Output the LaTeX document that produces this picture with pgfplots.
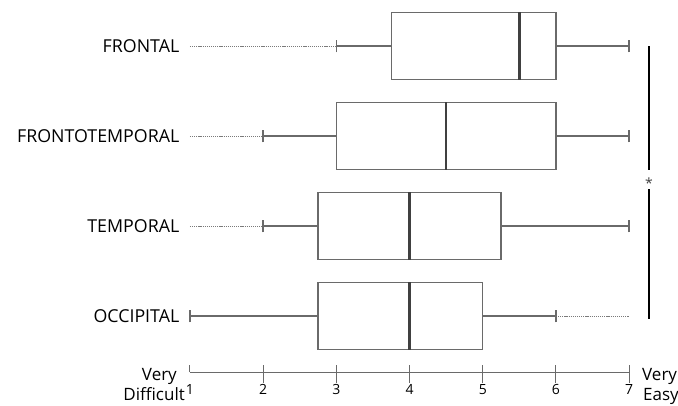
\documentclass[border=0pt]{standalone}
\usepackage{pgfplots}
\pgfplotsset{compat=1.18}
\usepgfplotslibrary{statistics}
\usepackage{fontspec}
\setmainfont{Open Sans}

\definecolor{boxgray}{HTML}{6A6A6A}
\definecolor{medgray}{HTML}{404040}
\definecolor{dotgray}{HTML}{7A7A7A}

\begin{document}
\begin{tikzpicture}[x=1pt,y=1pt]
\useasboundingbox (0,0) rectangle (678,405);
\begin{axis}[
  at={(190pt,33pt)}, anchor=south west,
  scale only axis, width=439.2pt, height=369pt,
  xmin=1, xmax=7, ymin=0.378, ymax=4.478,
  clip=false,
  axis x line=bottom, axis y line=left,
  x axis line style={-, draw=boxgray, line width=1pt},
  y axis line style={draw=none},
  % upper half of every tick, with the labels
  xtick={1,2,3,4,5,6,7},
  xtick align=inside, major tick length=7pt,
  xtick style={draw=boxgray, line width=1pt},
  % lower half of the ticks from 2 to 7
  extra x ticks={2,3,4,5,6,7},
  extra x tick labels={},
  extra x tick style={xtick align=outside, major tick length=11pt},
  xticklabel style={font=\fontsize{14}{16}\selectfont, inner ysep=12pt},
  /pgf/number format/assume math mode=true,
  ytick={1,2,3,4},
  yticklabels={OCCIPITAL,TEMPORAL,FRONTOTEMPORAL,FRONTAL},
  ytick style={draw=none},
  yticklabel style={font=\fontsize{17.8}{20}\selectfont, anchor=east, inner sep=0pt, xshift=-7pt},
  boxplot/every box/.style={draw=boxgray, line width=1.3pt},
  boxplot/every whisker/.style={draw=boxgray, line width=1.4pt},
  boxplot/every median/.style={draw=medgray, line width=2.6pt},
]
% dotted extensions beyond the whiskers
\addplot[dotgray, dash pattern=on 1.2pt off 0.9pt, line width=1pt] coordinates {(1,4) (3,4)};
\addplot[dotgray, dash pattern=on 1.2pt off 0.9pt, line width=1pt] coordinates {(1,3) (2,3)};
\addplot[dotgray, dash pattern=on 1.2pt off 0.9pt, line width=1pt] coordinates {(1,2) (2,2)};
\addplot[dotgray, dash pattern=on 1.2pt off 0.9pt, line width=1pt] coordinates {(6,1) (7,1)};

% FRONTAL
\addplot[boxplot prepared={draw position=4, lower whisker=3, lower quartile=3.75,
  median=5.5, upper quartile=6, upper whisker=7, box extend=0.75, whisker extend=0.14}]
  coordinates {};
% FRONTOTEMPORAL
\addplot[boxplot prepared={draw position=3, lower whisker=2, lower quartile=3,
  median=4.5, upper quartile=6, upper whisker=7, box extend=0.75, whisker extend=0.14}]
  coordinates {};
% TEMPORAL
\addplot[boxplot prepared={draw position=2, lower whisker=2, lower quartile=2.75,
  median=4, upper quartile=5.25, upper whisker=7, box extend=0.75, whisker extend=0.14}]
  coordinates {};
% OCCIPITAL
\addplot[boxplot prepared={draw position=1, lower whisker=1, lower quartile=2.75,
  median=4, upper quartile=5, upper whisker=6, box extend=0.75, whisker extend=0.14}]
  coordinates {};

% significance bracket
\addplot[black, line width=2.4pt] coordinates {(7.27,4.0) (7.27,2.62)};
\addplot[black, line width=2.4pt] coordinates {(7.27,2.41) (7.27,0.97)};
\node[font=\fontsize{14}{15}\selectfont, text=black!75, inner sep=0pt] at (axis cs:7.27,2.48) {*};
\end{axis}

\node[anchor=base east, inner sep=0pt, font=\fontsize{17}{19}\selectfont] at (177,25) {Very};
\node[anchor=base east, inner sep=0pt, font=\fontsize{17}{19}\selectfont] at (185,5) {Difficult};
\node[anchor=base west, inner sep=0pt, font=\fontsize{17}{19}\selectfont] at (642,25) {Very};
\node[anchor=base west, inner sep=0pt, font=\fontsize{17}{19}\selectfont] at (643,5) {Easy};
\end{tikzpicture}
\end{document}
